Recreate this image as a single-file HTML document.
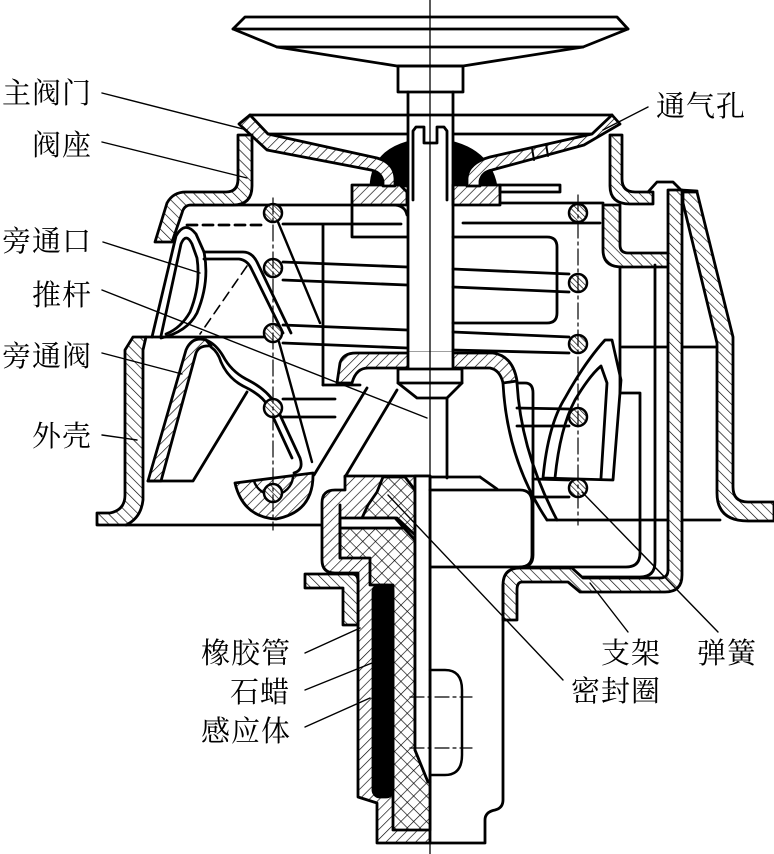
<!DOCTYPE html>
<html><head><meta charset="utf-8"><style>
html,body{margin:0;padding:0;background:#fff;}
svg{display:block;}
text{font-family:"Liberation Serif","Noto Serif CJK SC",serif;font-size:29px;fill:#000;letter-spacing:1px;}
</style></head><body>
<svg width="774" height="854" viewBox="0 0 774 854" xmlns="http://www.w3.org/2000/svg">
<defs>
<pattern id="hA" patternUnits="userSpaceOnUse" width="7" height="7" patternTransform="rotate(45)"><rect width="7" height="7" fill="#fff"/><line x1="0" y1="0" x2="0" y2="7" stroke="#000" stroke-width="1.3"/></pattern>
<pattern id="hB" patternUnits="userSpaceOnUse" width="7" height="7" patternTransform="rotate(-45)"><rect width="7" height="7" fill="#fff"/><line x1="0" y1="0" x2="0" y2="7" stroke="#000" stroke-width="1.3"/></pattern>
<pattern id="hC" patternUnits="userSpaceOnUse" width="4" height="4" patternTransform="rotate(-45)"><rect width="4" height="4" fill="#fff"/><line x1="0" y1="0" x2="0" y2="4" stroke="#000" stroke-width="1.3"/></pattern>
<pattern id="hX" patternUnits="userSpaceOnUse" width="9" height="9" patternTransform="rotate(45)"><rect width="9" height="9" fill="#fff"/><line x1="0" y1="0" x2="0" y2="9" stroke="#000" stroke-width="1.3"/><line x1="0" y1="0" x2="9" y2="0" stroke="#000" stroke-width="1.3"/></pattern>
</defs>
<rect width="774" height="854" fill="#fff"/>
<g fill="none" stroke="#000" stroke-width="2.8" stroke-linejoin="round" stroke-linecap="round">

<!-- deflector -->
<polygon points="245,17 617,17 628,29 583,47 463,66 397,66 277,47 233,29"/>
<line x1="233" y1="29" x2="628" y2="29"/>
<line x1="277" y1="47" x2="583" y2="47"/>
<rect x="398" y="66" width="65" height="26"/>

<!-- valve rim lines -->
<line x1="250" y1="115" x2="612" y2="115"/>
<line x1="268" y1="134" x2="592" y2="134"/>

<!-- black seal blob -->
<path d="M371,186 Q373,143 430,139 Q488,143 496,186 Z" fill="#000"/>
<rect x="409" y="120" width="43" height="80" fill="#fff" stroke="none"/>

<!-- spring wires (behind) -->
<line x1="283" y1="262" x2="407" y2="267"/><line x1="453" y1="269" x2="569" y2="274"/>
<line x1="283" y1="280" x2="407" y2="285"/><line x1="453" y1="287" x2="569" y2="292"/>
<line x1="283" y1="325" x2="407" y2="330"/><line x1="453" y1="332" x2="569" y2="337"/>
<line x1="283" y1="343" x2="407" y2="348"/><line x1="453" y1="350" x2="569" y2="353"/>
<line x1="278" y1="222" x2="320" y2="323" stroke-width="2.4"/>
<line x1="279" y1="342" x2="312" y2="462" stroke-width="2.4"/>
<line x1="283" y1="399" x2="335" y2="399"/><line x1="283" y1="417" x2="335" y2="417"/>
<line x1="517" y1="408" x2="569" y2="409"/><line x1="517" y1="426" x2="569" y2="426"/>
<line x1="533" y1="479" x2="569" y2="480"/><line x1="533" y1="497" x2="569" y2="497"/>

<!-- plates -->
<path d="M183,205 L393,205 Q405,205 407,215"/>
<line x1="283" y1="224" x2="401" y2="224"/>
<path d="M352,205 L352,237 L407,237"/>
<line x1="187" y1="225" x2="263" y2="225" stroke-dasharray="10 6"/>
<path d="M352,185 L400,185 L407,192 L407,205 L352,205 Z" fill="url(#hA)"/>
<path d="M453,185 L500,185 L500,205 L453,205 Z" fill="url(#hA)"/>
<rect x="500" y="185" width="60" height="7"/>
<line x1="500" y1="203" x2="603" y2="203"/>
<line x1="463" y1="223" x2="600" y2="223"/>
<path d="M453,237 L547,237 Q557,237 557,247 L557,313 Q557,323 547,323 L453,323"/>
<line x1="323" y1="225" x2="323" y2="385"/>
<line x1="323" y1="385" x2="360" y2="385"/>

<!-- main valve bands -->
<path d="M239,124 L250,115 L268,134 L377,158 Q394,163 395,178 L395,186 L383,186 L383,181 Q381,172 371,170 L267,150 Z" fill="url(#hA)"/>
<path d="M620,124 L612,115 L592,134 L490,157 Q468,163 467,178 L467,186 L480,186 L480,181 Q482,172 492,170 L584,145 Z" fill="url(#hA)"/>
<line x1="532" y1="148" x2="534" y2="160" stroke-width="2"/>
<line x1="546" y1="144" x2="548" y2="156" stroke-width="2"/>

<!-- valve seat -->
<path d="M238,135 L252,135 L252,186 Q252,205 233,205 L191,205 Q184,205 182,213 L172,242 L155,242 L167,203 Q173,192 186,192 L226,192 Q238,192 238,179 Z" fill="url(#hB)"/>
<path d="M610,135 L622,135 L622,179 Q622,192 635,192 L653,192 L653,204 L630,204 Q610,204 610,186 Z" fill="url(#hB)"/>
<path d="M603,205 L620,205 L620,245 Q620,253 628,253 L678,253 L678,267 L622,267 Q603,267 603,250 Z" fill="url(#hB)"/>

<!-- left housing -->
<path d="M133,337 L146,337 L143,350 L143,500 Q141,518 126,525 L97,525 L97,513 L110,513 Q125,510 125,495 L125,350 Z" fill="url(#hB)"/>
<line x1="146" y1="337" x2="264" y2="337"/>
<line x1="126" y1="525" x2="322" y2="525"/>

<!-- bypass port -->
<path d="M152,337 L176,236 Q185,220 196,234 L204,252 Q210,282 197,313 Q187,332 161,338"/>
<path d="M161,336 L181,244 Q186,232 192,244 L197,258 Q201,285 190,312 Q181,328 166,334"/>
<path d="M204,252 L243,252 Q252,252 257,262 L291,333"/>
<path d="M204,259 L239,259 Q247,260 251,268 L283,333"/>
<line x1="247" y1="266" x2="200" y2="334" stroke-width="1.6" stroke-dasharray="10 6"/>

<!-- bypass valve -->
<path d="M148,481 L186,350 Q192,336 206,340 L211,346 Q199,345 196,353 L161,481 Z" fill="url(#hA)"/>
<path d="M206,340 Q216,344 223,356 Q231,371 246,379 Q266,389 274,402 L300,458 Q304,470 294,473"/>
<path d="M211,347 Q218,352 221,362 Q228,378 243,386 Q262,395 268,406 L292,458"/>
<path d="M148,481 L193,481 L247,392"/>
<path d="M235,483 L313,473 Q314,512 276,519 Q243,517 235,483 Z" fill="url(#hA)"/>
<path d="M254,481 A20,20 0 0 0 293,477" stroke-width="2.4"/>

<!-- cup band around stem -->
<path d="M337,383 L340,363 Q343,353 356,353 L493,353 Q513,356 517,381 L503,383 Q500,370 490,368 L368,368 Q356,368 352,383 Z" fill="url(#hA)"/>
<rect x="409" y="352" width="43" height="17" fill="#fff" stroke="none"/>
<line x1="367" y1="388" x2="314" y2="475"/>
<line x1="397" y1="390" x2="345" y2="477"/>
<line x1="345" y1="477" x2="480" y2="477"/>
<line x1="480" y1="477" x2="497" y2="489"/>

<!-- right interior -->
<path d="M503,383 Q507,460 547,520"/>
<path d="M517,383 Q521,452 557,520"/>
<path d="M517,383 L525,383 Q533,383 533,393 L533,555 Q533,567 521,567"/>
<path d="M543,478 Q548,425 565,398 Q585,362 605,340 L612,340 L621,380 L613,480 Z"/>
<path d="M555,478 Q560,428 575,400 Q590,375 601,366 L607,383 L601,478"/>
<path d="M620,267 L620,393 L640,393 L640,553 Q640,567 626,567 L430,567"/>
<path d="M655,265 L655,562 Q655,577 640,577 L583,577"/>
<line x1="547" y1="520" x2="720" y2="520"/>
<line x1="622" y1="347" x2="717" y2="347"/>

<!-- bracket -->
<path d="M682,190 L682,575 Q682,592 665,592 L580,592 L568,582 L522,582 Q517,582 517,590 L517,620 L503,620 L503,585 Q503,568 520,568 L572,568 L583,578 L660,578 Q668,578 668,570 L668,190 Z" fill="url(#hB)"/>

<!-- right housing -->
<path d="M648,192 L657,182 L673,182 L681,190 L697,191"/>
<path d="M683,192 L697,192 L733,337 L733,487 Q733,502 748,502 L774,502 L774,521 L748,521 Q717,521 717,493 L717,343 L683,203 Z" fill="url(#hB)"/>

<!-- coils -->
<g fill="url(#hC)" stroke-width="2.5">
<circle cx="273" cy="213" r="9"/><circle cx="273" cy="268" r="9"/><circle cx="273" cy="333" r="9"/><circle cx="273" cy="408" r="9"/><circle cx="273" cy="493" r="9"/>
<circle cx="578" cy="213" r="9"/><circle cx="578" cy="283" r="9"/><circle cx="578" cy="344" r="9"/><circle cx="578" cy="417" r="9"/><circle cx="578" cy="488" r="9"/>
</g>
<line x1="273" y1="198" x2="273" y2="530" stroke-width="1.2" stroke-dasharray="16 4 3 4"/>
<line x1="578" y1="195" x2="578" y2="525" stroke-width="1.2" stroke-dasharray="16 4 3 4"/>

<!-- stem -->
<line x1="408" y1="92" x2="408" y2="369"/>
<line x1="453" y1="92" x2="453" y2="369"/>
<path d="M413,200 L413,131 L416,127 L424,127 L424,143 L437,143 L437,127 L444,127 L447,131 L447,200"/>
<path d="M398,383 L398,369 L462,369 L462,383 Z" fill="#fff"/>
<path d="M398,383 L417,398 L447,398 L462,383"/>
<line x1="447" y1="398" x2="447" y2="478"/>

<!-- sensing body section -->
<path d="M345,482 L345,490 L335,490 Q322,490 322,503 L322,560 Q322,573 335,573 L358,573 L358,797 L377,803 L377,843 L430,843 L430,476 L345,476 Z" fill="url(#hA)"/>
<path d="M362,518 L368,505 L377,492 L383,477 L405,477 L415,490 L415,535 L397,518 Z" fill="url(#hX)"/>
<path d="M340,528 L404,528 L415,540 L415,750 L428,782 L430,782 L430,830 L393,830 L393,585 L370,585 L370,558 L340,558 Z" fill="url(#hX)"/>
<path d="M340,518 L395,518 L404,528 L340,528 Z" fill="#fff"/>
<line x1="340" y1="505" x2="340" y2="558"/>
<path d="M415,476 L415,750 L428,782 L430,782 L430,476 Z" fill="#fff"/>
<rect x="373" y="585" width="20" height="212" rx="7" fill="#000"/>
<path d="M305,574 L352,574 Q358,574 358,581 L358,625 L343,625 L343,588 L305,588 Z" fill="url(#hB)"/>

<!-- sensing body exterior -->
<path d="M430,490 L520,490 Q532,490 532,503 L532,555 Q532,567 520,567"/>
<path d="M503,585 L503,800 Q503,808 495,810 Q485,812 485,820 L485,843 L430,843"/>
<path d="M430,670 L445,670 Q462,670 462,690 L462,755 Q462,775 445,775 L430,775" stroke-width="2.5"/>
<line x1="410" y1="697" x2="472" y2="697" stroke-width="1.2" stroke-dasharray="14 4 3 4"/>
<line x1="410" y1="748" x2="472" y2="748" stroke-width="1.2" stroke-dasharray="14 4 3 4"/>

<!-- centerline -->
<line x1="430" y1="0" x2="430" y2="854" stroke-width="1.3"/>

<!-- leaders -->
<g stroke-width="1.4">
<line x1="102" y1="93" x2="247" y2="130"/>
<line x1="102" y1="142" x2="247" y2="178"/>
<line x1="103" y1="242" x2="200" y2="273"/>
<line x1="102" y1="290" x2="427" y2="418"/>
<line x1="102" y1="353" x2="182" y2="374"/>
<line x1="102" y1="435" x2="137" y2="440"/>
<line x1="648" y1="107" x2="603" y2="130"/>
<line x1="305" y1="653" x2="360" y2="628"/>
<line x1="305" y1="690" x2="372" y2="663"/>
<line x1="305" y1="727" x2="370" y2="698"/>
<line x1="628" y1="632" x2="590" y2="583"/>
<line x1="718" y1="632" x2="582" y2="492"/>
<line x1="563" y1="680" x2="388" y2="495"/>
</g>
</g>

<!-- labels -->
<text x="2" y="103">主阀门</text>
<text x="32" y="155">阀座</text>
<text x="2" y="251">旁通口</text>
<text x="32" y="305">推杆</text>
<text x="2" y="366">旁通阀</text>
<text x="32" y="446">外壳</text>
<text x="656" y="116">通气孔</text>
<text x="201" y="663">橡胶管</text>
<text x="230" y="702">石蜡</text>
<text x="201" y="741">感应体</text>
<text x="601" y="663">支架</text>
<text x="697" y="663">弹簧</text>
<text x="571" y="701">密封圈</text>
</svg>
</body></html>
